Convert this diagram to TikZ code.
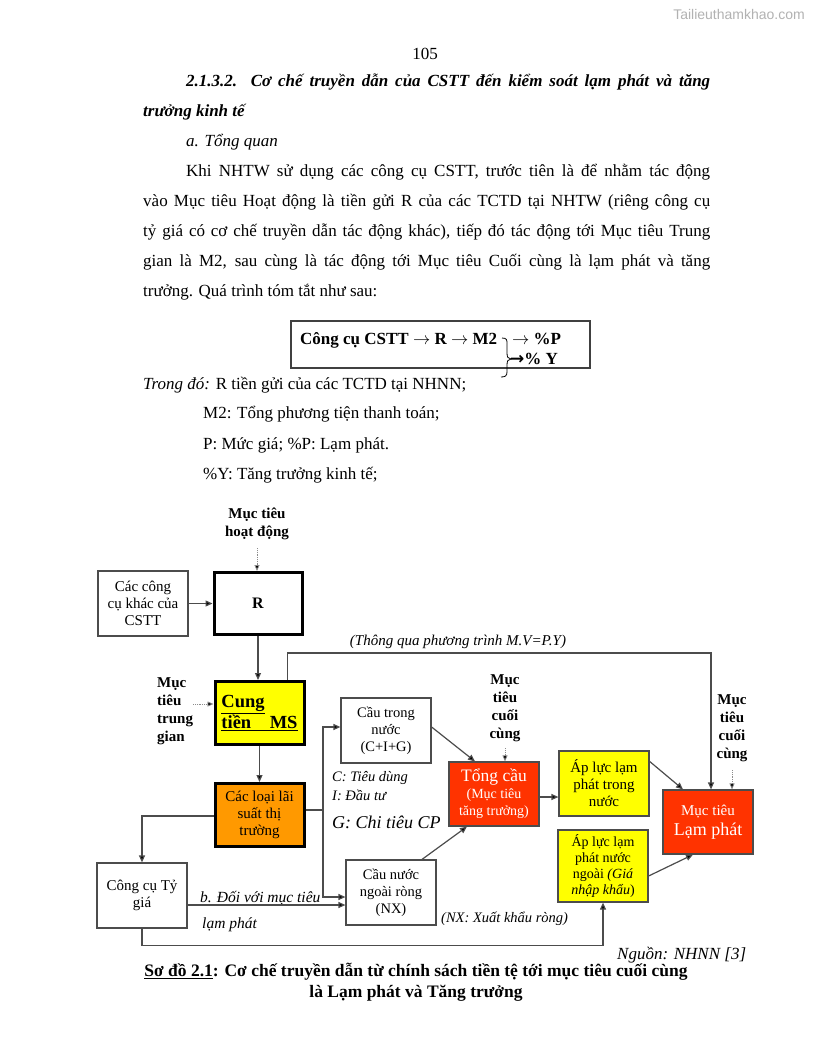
\documentclass[tikz,border=0pt]{standalone}
\usepackage{fontspec}
\setmainfont{Liberation Serif}
\newfontfamily\wmfont{Liberation Sans}
\newfontfamily\symfont{DejaVu Sans}
\usetikzlibrary{arrows.meta}

\definecolor{redbox}{HTML}{FF3300}
\definecolor{yellowbox}{HTML}{FFFF00}
\definecolor{orangebox}{HTML}{FF9900}

\newcommand\fs[2]{\fontsize{#1}{#2}\selectfont}
\newcommand\jline[2]{\makebox[#1][s]{#2}}

\tikzset{
  txt/.style={font=\fs{17}{30}, inner sep=0pt, anchor=base west},
  hd/.style={txt, font=\fs{17}{30}\bfseries\itshape},
  box/.style={draw=black!70, line width=1.2pt, fill=white, minimum width=90pt, minimum height=65pt, align=center, font=\fs{14.5}{17}, inner sep=1pt},
  thickbox/.style={box, draw=black, line width=3pt},
  lbl/.style={font=\fs{15}{18}\bfseries, align=center, inner sep=0pt},
  note/.style={font=\fs{14.5}{17}\itshape, inner sep=0pt},
  arr/.style={-{Triangle[length=7pt,width=6pt,fill=black]}, draw=black!70, line width=1.2pt},
  dotarr/.style={-{Triangle[length=6pt,width=5pt,fill=black]}, draw=black!45, densely dotted, line width=0.8pt},
}

\begin{document}
\begin{tikzpicture}[x=1pt,y=-1pt]
\useasboundingbox[fill=white] (0,0) rectangle (816,1056);

% watermark and page number
\node[font=\wmfont\fs{14}{16}, text=black!30] (wm) at (739,15) {Tailieuthamkhao.com};
\node[txt, anchor=base] (pg) at (425,60) {105};

% heading
\node[hd] (h1) at (186,87) {\jline{524pt}{2.1.3.2. Cơ chế truyền dẫn của CSTT đến kiểm soát lạm phát và tăng}};
\node[hd] (h2) at (143,117) {trưởng kinh tế};
\node[txt, font=\fs{17}{30}\itshape] (h3) at (186,147) {a. Tổng quan};

% paragraph
\node[txt] (p1) at (186,177) {\jline{524pt}{Khi NHTW sử dụng các công cụ CSTT, trước tiên là để nhằm tác động}};
\node[txt] (p2) at (143,207) {\jline{567pt}{vào Mục tiêu Hoạt động là tiền gửi R của các TCTD tại NHTW (riêng công cụ}};
\node[txt] (p3) at (143,237) {\jline{567pt}{tỷ giá có cơ chế truyền dẫn tác động khác), tiếp đó tác động tới Mục tiêu Trung}};
\node[txt] (p4) at (143,267) {\jline{567pt}{gian là M2, sau cùng là tác động tới Mục tiêu Cuối cùng là lạm phát và tăng}};
\node[txt] (p5) at (143,297) {trưởng. Quá trình tóm tắt như sau:};

% formula box
\draw[line width=1.2pt, draw=black!75] (291,321) rectangle (590,368);
\node[txt, font=\fs{17}{20}\bfseries] (f1) at (300,344) {Công cụ CSTT $\rightarrow$ R $\rightarrow$ M2};
\node[txt, font=\fs{17}{20}\bfseries] (f2) at (512,344) {$\rightarrow$ \%P};
\node[txt, font=\fs{17}{20}\bfseries] (f3) at (510,364) {{\symfont\bfseries →}\% Y};
\draw[line width=0.8pt] (502,338) .. controls (507,338) and (507,340) .. (507,344) -- (507,353)
  .. controls (507,357) and (508,359) .. (511,359) .. controls (508,359) and (507,361) .. (507,365)
  -- (507,372) .. controls (507,376) and (505,377) .. (501,377);

% legend lines
\node[txt] (td) at (143,389) {\textit{Trong đó:} R tiền gửi của các TCTD tại NHNN;};
\node[txt] (m2) at (203,418) {M2: Tổng phương tiện thanh toán;};
\node[txt] (pp) at (203,449) {P: Mức giá; \%P: Lạm phát.};
\node[txt] (py) at (203,479) {\%Y: Tăng trưởng kinh tế;};

% diagram
\node[lbl] (mthd) at (257,524) {Mục tiêu\\hoạt động};
\node[box, font=\fs{15}{17}] (cck) at (143,603.5) {Các công\\cụ khác của\\CSTT};
\node[thickbox, minimum width=88pt, minimum height=62pt, font=\fs{16}{18}\bfseries] (R) at (258,603.5) {R};
\node[lbl, align=left, anchor=west] (mttg) at (157,711) {Mục\\tiêu\\trung\\gian};
\node[thickbox, fill=yellowbox, minimum width=89pt, minimum height=63pt, align=left, font=\fs{18.5}{21}\bfseries] (ms) at (259.5,713) {\underline{Cung}\\\underline{tiền\quad MS}};
\node[thickbox, fill=orangebox, minimum width=89pt, minimum height=63pt, font=\fs{15}{17}] (ls) at (259.5,815) {Các loại lãi\\suất thị\\trường};
\node[box, font=\fs{15}{17}] (tg) at (142,895.5) {Công cụ Tỷ\\giá};
\node[box] (ctn) at (386,730.5) {Cầu trong\\nước\\(C+I+G)};
\node[box] (cnn) at (391,892.5) {Cầu nước\\ngoài ròng\\(NX)};
\node[box, fill=redbox, text=white, minimum height=64pt] (tc) at (494,794) {\fs{17.5}{21}Tổng cầu\\\fs{14}{16}(Mục tiêu\\\fs{14}{16}tăng trưởng)};
\node[lbl] (mtcc1) at (505,708.5) {Mục\\tiêu\\cuối\\cùng};
\node[box, fill=yellowbox, font=\fs{15}{17}] (aptn) at (604,783.5) {Áp lực lạm\\phát trong\\nước};
\node[box, fill=yellowbox, minimum height=72pt, font=\fs{14}{15.7}] (apnn) at (603,866) {Áp lực lạm\\phát nước\\ngoài \textit{(Giá}\\\textit{nhập khẩu})};
\node[box, fill=redbox, text=white, minimum height=64pt] (lp) at (708,822) {\fs{15}{18}Mục tiêu\\[3pt]\fs{18}{21}Lạm phát};
\node[lbl] (mtcc2) at (732,728.5) {Mục\\tiêu\\cuối\\cùng};

% notes
\node[note, font=\fs{15}{17}\itshape] (mvpy) at (458,642) {(Thông qua phương trình M.V=P.Y)};
\node[note, anchor=west] (cdef) at (332,778) {C: Tiêu dùng};
\node[note, anchor=west] (idef) at (332,795) {I: Đầu tư};
\node[note, anchor=west, font=\fs{18}{21}\itshape] (gdef) at (332,822) {G: Chi tiêu CP};
\node[note, anchor=west, font=\fs{15.5}{18}\itshape] (bdv) at (200,898) {b. Đối với mục tiêu};
\node[note, anchor=west, font=\fs{15.5}{18}\itshape] (lpn) at (202,925) {lạm phát};
\node[note, anchor=west] (nxd) at (441,919) {(NX: Xuất khẩu ròng)};
\node[note, anchor=west, font=\fs{17}{20}\itshape] (src) at (617,955) {Nguồn: NHNN [3]};

% connectors
\draw[dotarr] ([yshift=-8pt]mthd.south) -- (mthd.south |- R.north);
\draw[arr] (cck) -- (R);
\draw[arr] (R.south) -- (R.south |- ms.north);
\draw[dotarr] (mttg.east |- 0,704) -- (ms.west |- 0,704);
\draw[arr] ([xshift=28pt]ms.north) -- ++(0,-27) -| ([xshift=3pt]lp.north);
\draw[arr] (ms) -- (ls);
\draw[arr] (ls.west |- 0,816) -| (tg.north);
\coordinate (sp) at (323,810);
\draw[arr, -] (ls.east |- sp) -- (sp);
\draw[arr] (sp) |- (ctn.west |- 0,727);
\draw[arr] (sp) |- (cnn.west |- 0,897);
\draw[arr] (tg.east |- 0,905) -- (cnn.west |- 0,905);
\draw[arr] (tg.south) -- ++(0,17) -| (apnn.south);
\draw[arr] ([yshift=3.5pt]ctn.east) -- ([xshift=-19pt]tc.north);
\draw[arr] ([xshift=31pt]cnn.north) -- ([xshift=-27pt]tc.south);
\draw[dotarr] ([yshift=-6pt]mtcc1.south) -- (mtcc1.south |- tc.north);
\draw[arr] (tc.east |- 0,797) -- (aptn.west |- 0,797);
\draw[arr] ([yshift=-11pt]aptn.north east) -- ([xshift=-25pt]lp.north);
\draw[arr] ([yshift=-10pt]apnn.east) -- ([xshift=-15pt]lp.south);
\draw[dotarr] ([yshift=-8pt]mtcc2.south) -- (mtcc2.south |- lp.north);

% caption
\node[font=\fs{17.5}{21}\bfseries, align=center, inner sep=0pt] (cap) at (416,982) {\underline{Sơ đồ 2.1}: Cơ chế truyền dẫn từ chính sách tiền tệ tới mục tiêu cuối cùng\\là Lạm phát và Tăng trưởng};
\end{tikzpicture}
\end{document}
